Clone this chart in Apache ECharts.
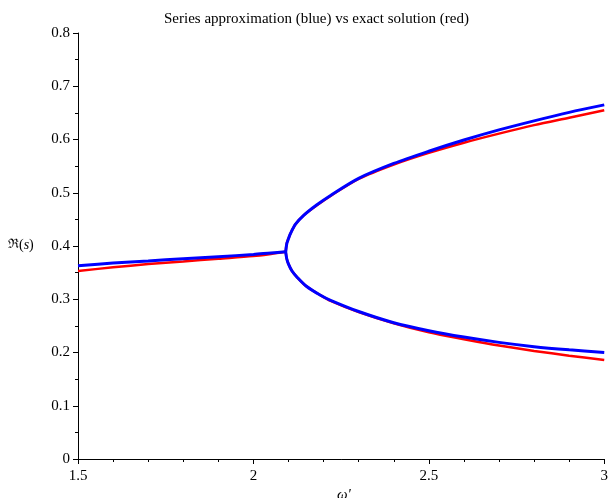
<!DOCTYPE html>
<html>
<head>
<meta charset="utf-8">
<script src="https://cdn.jsdelivr.net/npm/echarts@6/dist/echarts.min.js"></script>
<style>
  html, body { margin: 0; padding: 0; background: #fff; }
  #chart { width: 611px; height: 498px; }
</style>
</head>
<body>
<div id="chart"></div>
<script>
// left branch (before the bifurcation)
const leftX = [1.5, 1.6, 1.7, 1.8, 1.9, 2.0, 2.05, 2.092]
const blueLeft = [0.363, 0.368, 0.372, 0.376, 0.380, 0.384, 0.387, 0.389]
const redLeft = [0.353, 0.360, 0.366, 0.371, 0.376, 0.381, 0.385, 0.389]

// upper branch
const upperX = [2.092, 2.095, 2.1, 2.106, 2.12, 2.144, 2.18, 2.22, 2.3, 2.4, 2.5, 2.6, 2.7, 2.8, 2.9, 3.0]
const blueUpper = [0.389, 0.404, 0.414, 0.424, 0.441, 0.458, 0.477, 0.495, 0.527, 0.555, 0.578, 0.599, 0.618, 0.635, 0.651, 0.665]
const redUpper = [0.389, 0.405, 0.414, 0.424, 0.441, 0.458, 0.476, 0.494, 0.526, 0.553, 0.575, 0.594, 0.611, 0.627, 0.641, 0.655]

// lower branch
const lowerX = [2.092, 2.095, 2.1, 2.11, 2.125, 2.15, 2.19, 2.22, 2.3, 2.4, 2.5, 2.6, 2.7, 2.8, 2.9, 3.0]
const blueLower = [0.389, 0.376, 0.366, 0.353, 0.341, 0.325, 0.308, 0.298, 0.277, 0.256, 0.241, 0.229, 0.219, 0.211, 0.205, 0.200]
const redLower = [0.389, 0.376, 0.366, 0.353, 0.341, 0.325, 0.308, 0.297, 0.276, 0.255, 0.238, 0.225, 0.213, 0.203, 0.194, 0.186]

const font = 'Liberation Serif'

function pairs(xs, ys) {
  return xs.map((x, i) => [x, ys[i]])
}

function branch(xs, ys, color, width) {
  return {
    type: 'line',
    data: pairs(xs, ys),
    showSymbol: false,
    smooth: 0.3,
    lineStyle: { color: color, width: width },
    animation: false
  }
}

const chart = echarts.init(document.getElementById('chart'))
const option = {
  title: {
    text: 'Series approximation (blue) vs exact solution (red)',
    left: 159,
    top: 7,
    textStyle: { fontFamily: font, fontSize: 15, fontWeight: 'normal', color: '#000' }
  },
  grid: { left: 78, right: 0, top: 33, bottom: 39 },
  xAxis: {
    type: 'value',
    min: 1.5,
    max: 3,
    interval: 0.5,
    axisLine: { lineStyle: { color: '#000' } },
    axisTick: { length: 5, lineStyle: { color: '#000' } },
    minorTick: { show: true, splitNumber: 5, length: 3, lineStyle: { color: '#000' } },
    splitLine: { show: false },
    axisLabel: { fontFamily: font, fontSize: 15, color: '#000', margin: 10 }
  },
  yAxis: {
    type: 'value',
    min: 0,
    max: 0.8,
    interval: 0.1,
    axisLine: { show: true, lineStyle: { color: '#000' } },
    axisTick: { show: true, length: 5, lineStyle: { color: '#000' } },
    minorTick: { show: true, splitNumber: 2, length: 3, lineStyle: { color: '#000' } },
    splitLine: { show: false },
    axisLabel: { fontFamily: font, fontSize: 15, color: '#000', margin: 8 }
  },
  graphic: [
    {
      type: 'text',
      left: 8,
      top: 238,
      style: {
        text: '{a|ℜ}({b|s})',
        rich: {
          a: { fontFamily: 'DejaVu Serif', fontSize: 13, fill: '#000' },
          b: { fontFamily: font, fontStyle: 'italic', fontSize: 14, fill: '#000' }
        },
        fontFamily: font,
        fontSize: 14,
        fill: '#000'
      }
    },
    {
      type: 'text',
      left: 337,
      top: 488,
      style: { text: "ω'", fontFamily: font, fontStyle: 'italic', fontSize: 15, fill: '#000' }
    }
  ],
  series: [
    branch(leftX, redLeft, '#ff0000', 2.5),
    branch(upperX, redUpper, '#ff0000', 2.5),
    branch(lowerX, redLower, '#ff0000', 2.5),
    branch(leftX, blueLeft, '#0000ff', 3),
    branch(upperX, blueUpper, '#0000ff', 3),
    branch(lowerX, blueLower, '#0000ff', 3)
  ]
}
chart.setOption(option)
</script>
</body>
</html>
